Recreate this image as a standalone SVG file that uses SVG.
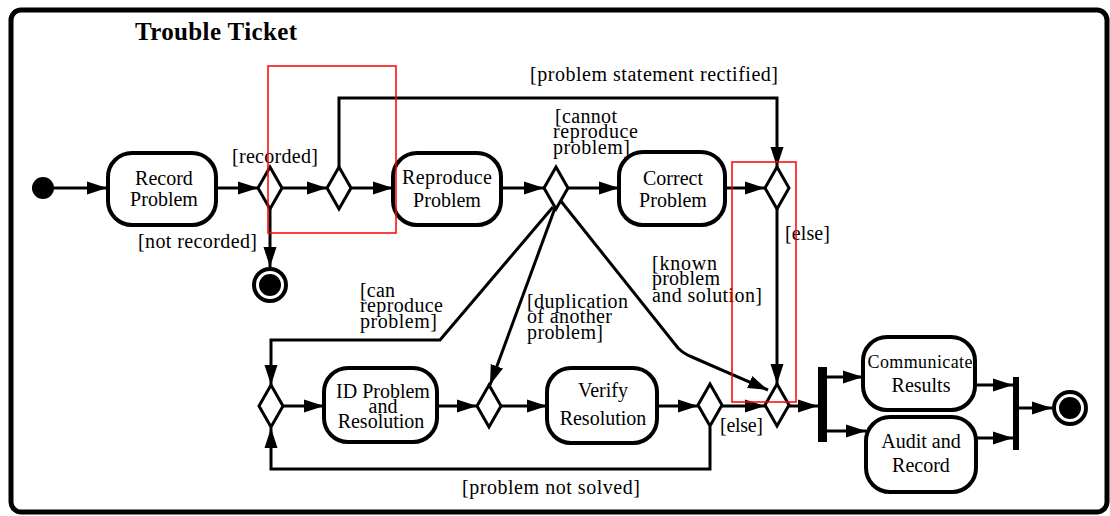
<svg xmlns="http://www.w3.org/2000/svg" width="1110" height="516" viewBox="0 0 1110 516">
<style>
.frame{fill:#fff;stroke:#000;stroke-width:5}
.act{fill:#fff;stroke:#000;stroke-width:4}
.dia{fill:#fff;stroke:#000;stroke-width:3}
.bar{fill:#000}
.c{fill:none;stroke:#000;stroke-width:3;marker-end:url(#ah)}
.t{font-family:"Liberation Serif","Times New Roman",serif;font-size:20px;fill:#000;text-anchor:middle}
.l{font-family:"Liberation Serif","Times New Roman",serif;font-size:20px;fill:#000}
.title{font-family:"Liberation Serif","Times New Roman",serif;font-size:25px;font-weight:bold;fill:#000}
.red{fill:none;stroke:#ff0000;stroke-width:1.5}
</style>
<defs>
<marker id="ah" markerUnits="userSpaceOnUse" markerWidth="21" markerHeight="14" refX="20" refY="7" orient="auto">
<path d="M0,0.5 L20,7 L0,13.5 z" fill="#000"/>
</marker>
</defs>
<rect class="frame" x="11" y="10" width="1096" height="502" rx="10"/>
<text class="title" x="135" y="40" textLength="162">Trouble Ticket</text>

<g id="connectors">
<path class="c" d="M54,188 H107"/>
<path class="c" d="M216,188 H258"/>
<path class="c" d="M270,209 V267"/>
<path class="c" d="M282,188 H327"/>
<path class="c" d="M339,167 V98 H777 V167"/>
<path class="c" d="M351,188 H393"/>
<path class="c" d="M501,188 H544"/>
<path class="c" d="M568,188 H619"/>
<path class="c" d="M725,188 H765"/>
<path class="c" d="M777,209 V384"/>
<path class="c" d="M553,207 L440,340 H271 V385"/>
<path class="c" d="M555,208 L490,385"/>
<path class="c" d="M560,200 L678,348 Q684,354 692,357 L768,390"/>
<path class="c" d="M283,406 H324"/>
<path class="c" d="M437,406 H477"/>
<path class="c" d="M501,406 H547"/>
<path class="c" d="M657,406 H698"/>
<path class="c" d="M722,406 H765"/>
<path class="c" d="M710,427 V469 H271 V428"/>
<path class="c" d="M789,406 H818"/>
<path class="c" d="M826,377 H863"/>
<path class="c" d="M826,431 H866"/>
<path class="c" d="M975,385 H1013"/>
<path class="c" d="M976,438 H1013"/>
<path class="c" d="M1018,408 H1052"/>
</g>

<g id="start"><circle cx="43" cy="188" r="11" fill="#000"/></g>

<g id="record-problem">
<rect class="act" x="108" y="153" width="108" height="72" rx="24"/>
<text class="t" x="164" y="185">Record</text>
<text class="t" x="164" y="206">Problem</text>
</g>

<g id="d1"><polygon class="dia" points="270,167 282,188 270,209 258,188"/></g>
<g id="end1">
<circle cx="270" cy="285" r="16" fill="#fff" stroke="#000" stroke-width="4"/>
<circle cx="270" cy="285" r="11" fill="#000"/>
</g>
<g id="d2"><polygon class="dia" points="339,167 351,188 339,209 327,188"/></g>

<g id="reproduce-problem">
<rect class="act" x="393" y="153" width="108" height="72" rx="24"/>
<text class="t" x="447" y="184" textLength="90">Reproduce</text>
<text class="t" x="447" y="207">Problem</text>
</g>

<g id="d3"><polygon class="dia" points="556,167 568,188 556,209 544,188"/></g>

<g id="correct-problem">
<rect class="act" x="619" y="152" width="106" height="73" rx="24"/>
<text class="t" x="673" y="185">Correct</text>
<text class="t" x="673" y="207">Problem</text>
</g>

<g id="d4"><polygon class="dia" points="777,167 789,188 777,209 765,188"/></g>

<g id="dA"><polygon class="dia" points="271,385 283,406 271,427 259,406"/></g>

<g id="id-problem">
<rect class="act" x="324" y="368" width="113" height="74" rx="24"/>
<text class="t" x="383" y="398">ID Problem</text>
<text class="t" x="383" y="413">and</text>
<text class="t" x="381" y="428">Resolution</text>
</g>

<g id="dB"><polygon class="dia" points="489,385 501,406 489,427 477,406"/></g>

<g id="verify-resolution">
<rect class="act" x="547" y="368" width="110" height="75" rx="24"/>
<text class="t" x="603" y="397">Verify</text>
<text class="t" x="603" y="425">Resolution</text>
</g>

<g id="dC"><polygon class="dia" points="710,384 722,405 710,426 698,405"/></g>
<g id="d5"><polygon class="dia" points="777,384 789,405 777,426 765,405"/></g>

<g id="fork"><rect class="bar" x="818" y="367" width="9" height="75"/></g>

<g id="communicate-results">
<rect class="act" x="863" y="337" width="112" height="73" rx="24"/>
<text class="t" x="920" y="368" style="font-size:18px" textLength="105">Communicate</text>
<text class="t" x="921" y="392">Results</text>
</g>

<g id="audit-record">
<rect class="act" x="866" y="417" width="110" height="75" rx="24"/>
<text class="t" x="921" y="448">Audit and</text>
<text class="t" x="921" y="472">Record</text>
</g>

<g id="join"><rect class="bar" x="1013" y="377" width="6" height="73"/></g>

<g id="end2">
<circle cx="1070" cy="408" r="16" fill="#fff" stroke="#000" stroke-width="4"/>
<circle cx="1070" cy="408" r="11" fill="#000"/>
</g>

<g id="labels">
<text class="l" x="232" y="163" textLength="86">[recorded]</text>
<text class="l" x="138" y="248" textLength="119">[not recorded]</text>
<text class="l" x="530" y="81" textLength="248">[problem statement rectified]</text>
<text class="l" x="555" y="123" textLength="62">[cannot</text>
<text class="l" x="553" y="138" textLength="85">reproduce</text>
<text class="l" x="553" y="154" textLength="77">problem]</text>
<text class="l" x="785" y="240" textLength="45">[else]</text>
<text class="l" x="652" y="270" textLength="65">[known</text>
<text class="l" x="652" y="285" textLength="68">problem</text>
<text class="l" x="652" y="302" textLength="110">and solution]</text>
<text class="l" x="527" y="308" textLength="101">[duplication</text>
<text class="l" x="527" y="323" textLength="85">of another</text>
<text class="l" x="527" y="339" textLength="76">problem]</text>
<text class="l" x="360" y="297" textLength="35">[can</text>
<text class="l" x="360" y="312" textLength="83">reproduce</text>
<text class="l" x="360" y="328" textLength="77">problem]</text>
<text class="l" x="720" y="432" textLength="43">[else]</text>
<text class="l" x="462" y="494" textLength="178">[problem not solved]</text>
</g>

<g id="highlights">
<rect class="red" x="268" y="66" width="128" height="167"/>
<rect class="red" x="732" y="162" width="64" height="240"/>
</g>
</svg>
